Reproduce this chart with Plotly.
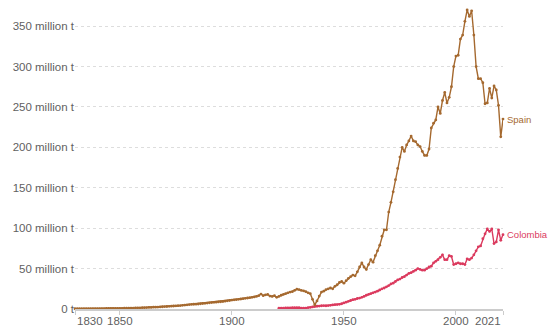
import plotly.graph_objects as go

# Years
spain_years = list(range(1830, 2022))
colombia_years = list(range(1921, 2022))

# Annual values (million tonnes)
spain_values = [
    0.3, 0.3, 0.3, 0.35, 0.35, 0.4, 0.4, 0.4, 0.45, 0.45,
    0.5, 0.5, 0.55, 0.55, 0.6, 0.6, 0.65, 0.7, 0.7, 0.75,
    0.8, 0.85, 0.9, 1.0, 1.0, 1.1, 1.2, 1.3, 1.4, 1.5,
    1.6, 1.7, 1.8, 1.9, 2.0, 2.2, 2.3, 2.4, 2.6, 2.8,
    3.0, 3.1, 3.3, 3.5, 3.7, 3.9, 4.1, 4.3, 4.6, 4.9,
    5.2, 5.5, 5.7, 5.9, 6.0, 6.2, 6.5, 6.8, 7.0, 7.3,
    7.6, 7.9, 8.2, 8.5, 8.8, 9.0, 9.3, 9.7, 10.1, 10.5,
    11.0, 11.3, 11.6, 12.0, 12.4, 12.8, 13.2, 13.6, 14.0, 14.5,
    15.0, 15.5, 16.5, 18.5, 16.5, 17.5, 18.0, 16.0, 15.5, 16.5,
    14.5, 15.5, 17.0, 18.0, 19.0, 20.0, 21.0, 21.5, 23.0, 24.5,
    24.0, 23.0, 22.5, 21.5, 20.0, 19.0, 12.0, 5.0, 10.0, 16.0,
    21, 22, 24, 25, 26, 25, 28, 30, 33, 34,
    32, 35, 38, 40, 42, 41, 46, 52, 57, 52,
    49, 55, 61, 58, 66, 72, 79, 90, 98, 98,
    120, 132, 145, 160, 174, 188, 200, 195, 203, 208,
    214, 208, 207, 203, 201, 195, 190, 190, 198, 224,
    230, 234, 250, 242, 258, 268, 255, 262, 275, 300,
    313, 314, 334, 339, 356, 370, 362, 369, 339, 300,
    285, 285, 280, 254, 255, 273, 261, 276, 271, 252,
    213, 235,
]

colombia_values = [
    1.0, 1.1, 1.2, 1.3, 1.4, 1.5, 1.6, 1.7, 1.8,
    1.6, 1.2, 1.0, 1.2, 1.6, 2.0, 2.6, 3.0, 3.4, 3.6,
    4.0, 4.2, 4.0, 4.3, 4.6, 5.0, 5.3, 5.5, 5.8, 6.5,
    7.5, 8.5, 9.5, 10.5, 11.5, 12.0, 13.0, 13.5, 14.5, 15.5,
    17, 18, 19, 20, 21, 22, 23.5, 25, 26, 27.5,
    29, 31, 32, 34, 36, 37, 39, 40, 42, 44,
    45, 46.5, 48, 50, 49, 48, 48, 50, 52, 53,
    57, 59, 61, 64, 67, 61, 61, 66, 65, 55,
    56, 57, 56, 56, 55, 62, 61, 63, 67, 72,
    77, 78, 87, 93, 99, 96, 99, 81, 83, 98,
    85, 92,
]

y_tick_vals = [0, 50, 100, 150, 200, 250, 300, 350]
y_tick_text = ["0 t", "50 million t", "100 million t", "150 million t",
               "200 million t", "250 million t", "300 million t", "350 million t"]
x_tick_vals = [1830, 1850, 1900, 1950, 2000, 2021]
x_tick_text = ["1830", "1850", "1900", "1950", "2000", "2021"]

spain_color = "#A5692F"
colombia_color = "#DB3A5E"
font_family = "Liberation Sans, Arial, sans-serif"
label_gray = "#5f5f5f"

fig = go.Figure()
fig.add_trace(go.Scatter(
    x=colombia_years, y=colombia_values, mode="lines+markers", name="Colombia",
    line=dict(color=colombia_color, width=1.4), marker=dict(size=2.8, color=colombia_color),
    cliponaxis=False,
))
fig.add_trace(go.Scatter(
    x=spain_years, y=spain_values, mode="lines+markers", name="Spain",
    line=dict(color=spain_color, width=1.4), marker=dict(size=2.8, color=spain_color),
    cliponaxis=False,
))

annotations = []
for v, t in zip(x_tick_vals, x_tick_text):
    anchor = "center"
    if v == x_tick_vals[0]:
        anchor = "left"
    elif v == x_tick_vals[-1]:
        anchor = "right"
    annotations.append(dict(
        x=v, y=0, xref="x", yref="paper", text=t, showarrow=False,
        xanchor=anchor, yanchor="top", yshift=-4,
        font=dict(family=font_family, size=11.5, color=label_gray),
    ))

annotations.append(dict(
    x=spain_years[-1], y=spain_values[-1], xref="x", yref="y", text="Spain",
    showarrow=False, xanchor="left", yanchor="middle", xshift=2,
    font=dict(family=font_family, size=9.5, color=spain_color),
))
annotations.append(dict(
    x=colombia_years[-1], y=colombia_values[-1], xref="x", yref="y", text="Colombia",
    showarrow=False, xanchor="left", yanchor="middle", xshift=2,
    font=dict(family=font_family, size=9.5, color=colombia_color),
))

fig.update_layout(
    width=550, height=332,
    margin=dict(l=75, r=47, t=10, b=23),
    paper_bgcolor="white", plot_bgcolor="white",
    showlegend=False,
    font=dict(family=font_family, size=11, color=label_gray),
    annotations=annotations,
)
fig.update_xaxes(
    range=[1830, 2021], tickvals=x_tick_vals, showticklabels=False,
    showgrid=False, zeroline=False,
    showline=True, linecolor="#cccccc", linewidth=1.5,
    ticks="outside", ticklen=4, tickcolor="#cccccc",
)
fig.update_yaxes(
    range=[0, 370], tickvals=y_tick_vals, ticktext=y_tick_text,
    showgrid=True, gridcolor="#dddddd", griddash="dot", gridwidth=1,
    zeroline=False, showline=False, ticks="",
    tickfont=dict(family=font_family, size=11.5, color=label_gray),
)

fig.write_html(
    "out.html",
    config={"displayModeBar": False},
    post_script="document.body.style.margin='0';document.body.style.overflow='hidden';",
)
